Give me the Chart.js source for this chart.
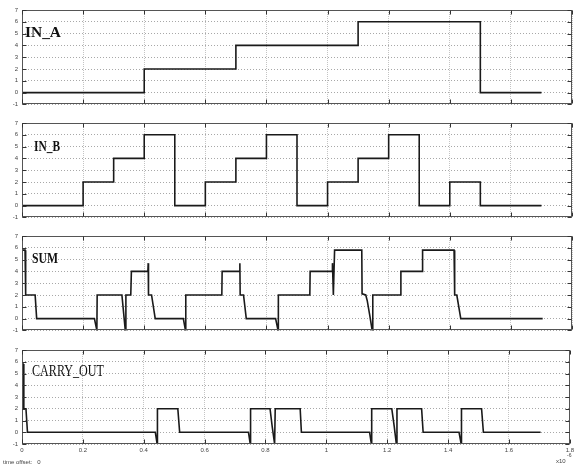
<!DOCTYPE html>
<html><head><meta charset="utf-8">
<script src="https://cdn.jsdelivr.net/npm/chart.js@4.4.0/dist/chart.umd.min.js"></script>
<style>
html,body{margin:0;padding:0;background:#fff;width:577px;height:466px;overflow:hidden;position:relative;}
canvas{position:absolute;left:0;}
.t{position:absolute;font-family:"Liberation Sans",Arial,sans-serif;color:#444;white-space:nowrap;line-height:1;}
</style></head><body>
<canvas id="c1" width="577" height="112" style="top:0px"></canvas>
<canvas id="c2" width="577" height="113" style="top:112px"></canvas>
<canvas id="c3" width="577" height="113" style="top:225px"></canvas>
<canvas id="c4" width="577" height="128" style="top:338px"></canvas>
<div class="t" style="left:3px;top:459px;font-size:6px;">time offset:&nbsp;&nbsp;&nbsp;0</div>
<div class="t" style="left:556px;top:458px;font-size:6px;">x10</div>
<div class="t" style="left:567px;top:453px;font-size:5px;">-6</div>
<script>
// ---- data ----
const xTicks = [0, 0.2, 0.4, 0.6, 0.8, 1.0, 1.2, 1.4, 1.6, 1.8];
const xTickLabels = ['0', '0.2', '0.4', '0.6', '0.8', '1', '1.2', '1.4', '1.6', '1.8'];
const yTicks = [-1, 0, 1, 2, 3, 4, 5, 6, 7];

const inA_t = [0, 0.4, 0.7, 1.1, 1.5, 1.7];
const inA_v = [0, 2, 4, 6, 0, 0];

const inB_t = [0, 0.2, 0.3, 0.4, 0.5, 0.6, 0.7, 0.8, 0.9, 1.0, 1.1, 1.2, 1.3, 1.4, 1.5, 1.7];
const inB_v = [0, 2, 4, 6, 0, 2, 4, 6, 0, 2, 4, 6, 0, 2, 0, 0];

const sum_t = [0, 0.01, 0.012, 0.043, 0.048, 0.237, 0.245, 0.246, 0.327, 0.338, 0.34, 0.356, 0.358,
  0.412, 0.413, 0.414, 0.424, 0.436, 0.528, 0.535, 0.536, 0.654, 0.655, 0.712, 0.713, 0.714, 0.725, 0.734,
  0.83, 0.838, 0.839, 0.942, 0.943, 1.015, 1.016, 1.019, 1.023, 1.112, 1.113, 1.125, 1.13, 1.138, 1.146, 1.148,
  1.239, 1.24, 1.31, 1.311, 1.414, 1.416, 1.423, 1.436, 1.704];
const sum_v = [5.8, 5.8, 2, 2, 0, 0, -1, 2, 2, -1, 2, 2, 4,
  4, 4.7, 2, 2, 0, 0, -1, 2, 2, 4, 4, 4.7, 2, 2, 0,
  0, -1, 2, 2, 4, 4, 4.7, 2, 5.8, 5.8, 2.1, 2, 1.5, 0.3, -1, 2,
  2, 4, 4, 5.8, 5.8, 2, 2, 0, 0];

const carry_t = [0, 0.004, 0.006, 0.013, 0.018, 0.438, 0.444, 0.445, 0.512, 0.518, 0.744, 0.75, 0.751,
  0.815, 0.822, 0.83, 0.832, 0.914, 0.918, 1.142, 1.148, 1.149, 1.215, 1.223, 1.23, 1.232, 1.313, 1.318,
  1.436, 1.443, 1.444, 1.51, 1.516, 1.704];
const carry_v = [5.8, 5.8, 2, 2, 0, 0, -1, 2, 2, 0, 0, -1, 2,
  2, 0.5, -1, 2, 2, 0, 0, -1, 2, 2, 0.5, -1, 2, 2, 0,
  0, -1, 2, 2, 0, 0];

const pts = (t, v) => t.map((x, i) => ({x, y: v[i]}));

// ---- plugins ----
const boxPlugin = {
  id: 'box',
  afterDraw(chart) {
    const {ctx, chartArea: a, scales: {x, y}} = chart;
    ctx.save();
    ctx.strokeStyle = '#555';
    ctx.lineWidth = 1;
    ctx.setLineDash([]);
    const L = Math.round(a.left) + 0.5, R = Math.round(a.right) - 0.5;
    const T = Math.round(a.top) + 0.5, B = Math.round(a.bottom) - 0.5;
    ctx.strokeRect(L, T, R - L, B - T);
    ctx.strokeStyle = '#333';
    ctx.beginPath();
    yTicks.forEach(v => {
      const py = Math.round(y.getPixelForValue(v)) + 0.5;
      ctx.moveTo(L, py); ctx.lineTo(L + 4, py);
      ctx.moveTo(R, py); ctx.lineTo(R - 4, py);
    });
    xTicks.forEach(v => {
      const px = Math.round(x.getPixelForValue(v)) + 0.5;
      ctx.moveTo(px, T); ctx.lineTo(px, T + 4);
      ctx.moveTo(px, B); ctx.lineTo(px, B - 4);
    });
    ctx.stroke();
    ctx.restore();
  }
};
const labelPlugin = {
  id: 'plabel',
  afterDraw(chart, args, o) {
    const ctx = chart.ctx;
    ctx.save();
    ctx.font = o.font;
    ctx.fillStyle = '#111';
    ctx.textBaseline = 'alphabetic';
    const w = ctx.measureText(o.text).width;
    const sx = o.width / w;
    ctx.translate(o.x, o.y);
    ctx.scale(sx, 1);
    ctx.fillText(o.text, 0, 0);
    ctx.restore();
  }
};

function makePanel(id, data, stepped, p) {
  new Chart(document.getElementById(id), {
    type: 'line',
    data: {datasets: [{data, borderColor: '#1a1a1a', borderWidth: 1.6, pointRadius: 0,
      stepped, tension: 0, fill: false}]},
    options: {
      responsive: false, animation: false, events: [],
      layout: {padding: {top: p.padTop, right: 5, left: 0, bottom: 0}},
      plugins: {legend: {display: false}, tooltip: {enabled: false},
        plabel: p.label},
      scales: {
        x: {type: 'linear', min: 0, max: 1.8,
          afterBuildTicks: s => { s.ticks = xTicks.map(v => ({value: v})); },
          ticks: {display: p.showX, autoSkip: false, maxRotation: 0, padding: 3,
            callback: (v, i) => xTickLabels[i],
            font: {size: 6, family: 'Liberation Sans'}, color: '#444'},
          grid: {color: '#c4c4c4', lineWidth: 1, drawTicks: false},
          border: {display: false, dash: [1, 1]},
          afterFit: s => { s.height = p.xH; }
        },
        y: {min: -1, max: 7,
          afterBuildTicks: s => { s.ticks = yTicks.map(v => ({value: v})); },
          ticks: {padding: 4, font: {size: 6, family: 'Liberation Sans'}, color: '#444'},
          grid: {color: '#a8a8a8', lineWidth: 1, drawTicks: false},
          border: {display: false, dash: [1, 2]},
          afterFit: s => { s.width = 22; }
        }
      }
    },
    plugins: [boxPlugin, labelPlugin]
  });
}

makePanel('c1', pts(inA_t, inA_v), 'before', {padTop: 10, xH: 5, showX: false,
  label: {text: 'IN_A', font: 'bold 15px "Liberation Serif"', x: 25, y: 37, width: 36}});
makePanel('c2', pts(inB_t, inB_v), 'before', {padTop: 11, xH: 6, showX: false,
  label: {text: 'IN_B', font: 'bold 14px "Liberation Serif"', x: 34, y: 39, width: 26}});
makePanel('c3', pts(sum_t, sum_v), false, {padTop: 11, xH: 6, showX: false,
  label: {text: 'SUM', font: 'bold 14px "Liberation Serif"', x: 32, y: 38, width: 26}});
makePanel('c4', pts(carry_t, carry_v), false, {padTop: 12, xH: 22, showX: true,
  label: {text: 'CARRY_OUT', font: '17px "Liberation Serif"', x: 32, y: 38, width: 72}});
</script>
</body></html>
